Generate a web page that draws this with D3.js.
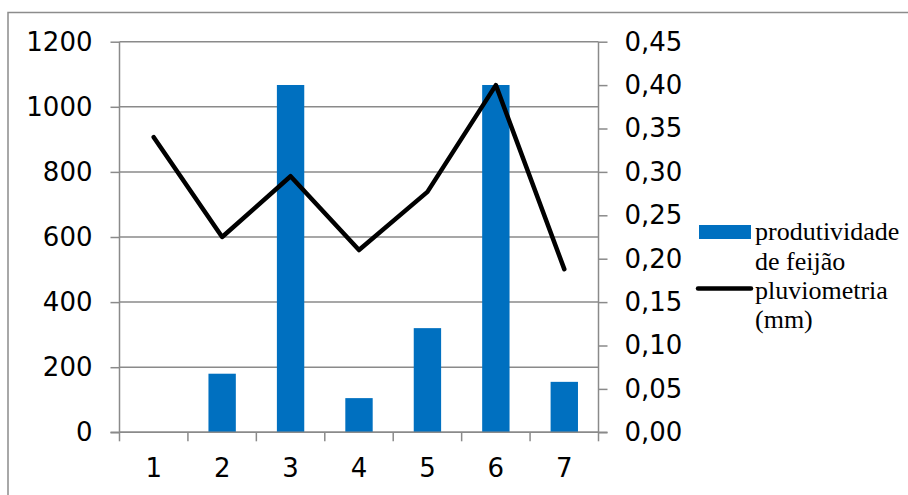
<!DOCTYPE html>
<html>
<head>
<meta charset="utf-8">
<script src="https://cdn.jsdelivr.net/npm/d3@7"></script>
<style>
  html, body { margin: 0; padding: 0; background: #fff; }
  svg { display: block; }
</style>
</head>
<body>
<svg id="chart" width="908" height="495"></svg>
<script>
// Categories and series
const categories = ["1", "2", "3", "4", "5", "6", "7"];
const produtividade = [0, 180, 1067, 105, 320, 1067, 155];
const pluviometria = [0.34, 0.225, 0.295, 0.21, 0.277, 0.40, 0.188];
const leftTicks = [0, 200, 400, 600, 800, 1000, 1200];
const rightTicks = [0, 0.05, 0.10, 0.15, 0.20, 0.25, 0.30, 0.35, 0.40, 0.45];
const legendBars = ["produtividade", "de feijão"];
const legendLine = ["pluviometria", "(mm)"];

const svg = d3.select("#chart");
const axisFont = "'DejaVu Sans', Verdana, sans-serif";
const legendFont = "'Liberation Serif', 'Times New Roman', serif";
const gridColor = "#8a8a8a";

// Outer frame
svg.append("rect")
  .attr("x", 8).attr("y", 12.5)
  .attr("width", 920).attr("height", 510)
  .attr("fill", "none").attr("stroke", "#8c8c8c").attr("stroke-width", 1.5);

const plot = { left: 119.5, right: 598.5, top: 41.7, bottom: 432.3 };

const x = d3.scaleBand().domain(categories).range([plot.left, plot.right]).paddingInner(0).paddingOuter(0);
const yL = d3.scaleLinear().domain([0, 1200]).range([plot.bottom, plot.top]);
const yR = d3.scaleLinear().domain([0, 0.45]).range([plot.bottom, plot.top]);

// Horizontal gridlines
svg.append("g").selectAll("line").data(leftTicks).join("line")
  .attr("x1", plot.left).attr("x2", plot.right)
  .attr("y1", d => yL(d)).attr("y2", d => yL(d))
  .attr("stroke", gridColor).attr("stroke-width", 1.5);

// Bars (gap width 150%)
const barW = x.bandwidth() * 0.4;
svg.append("g").selectAll("rect").data(produtividade).join("rect")
  .attr("x", (d, i) => x(categories[i]) + (x.bandwidth() - barW) / 2)
  .attr("width", barW)
  .attr("y", d => yL(d))
  .attr("height", d => yL(0) - yL(d))
  .attr("fill", "#0070C0");

// Left axis
const leftAxis = d3.axisLeft(yL).tickValues(leftTicks).tickSize(9).tickPadding(18).tickFormat(d3.format("d"));
const gL = svg.append("g").attr("transform", `translate(${plot.left},0)`).call(leftAxis);

// Right axis
const rightAxis = d3.axisRight(yR).tickValues(rightTicks).tickSize(9).tickPadding(17)
  .tickFormat(d => d3.format(".2f")(d).replace(".", ","));
const gR = svg.append("g").attr("transform", `translate(${plot.right},0)`).call(rightAxis);

// Bottom axis: ticks at category boundaries, labels at centres
const bottomAxis = d3.axisBottom(x).tickSize(0).tickPadding(26);
const gB = svg.append("g").attr("transform", `translate(0,${plot.bottom})`).call(bottomAxis);
gB.select(".domain").remove();
const bounds = categories.map(c => x(c)).concat([plot.right]);
svg.append("g").selectAll("line").data(bounds).join("line")
  .attr("x1", d => d).attr("x2", d => d)
  .attr("y1", plot.bottom).attr("y2", plot.bottom + 9)
  .attr("stroke", gridColor).attr("stroke-width", 1.5);
svg.append("line")
  .attr("x1", plot.left - 9).attr("x2", plot.right + 9)
  .attr("y1", plot.bottom).attr("y2", plot.bottom)
  .attr("stroke", gridColor).attr("stroke-width", 1.5);

[gL, gR, gB].forEach(g => {
  g.selectAll(".domain").attr("stroke", gridColor).attr("stroke-width", 1.5);
  g.selectAll(".tick line").attr("stroke", gridColor).attr("stroke-width", 1.5);
  g.selectAll(".tick text")
    .attr("font-family", axisFont).attr("font-size", 26).attr("fill", "#000");
});
gL.select(".domain").attr("d", `M0,${plot.top}V${plot.bottom}`);
gR.select(".domain").attr("d", `M0,${plot.top}V${plot.bottom}`);

// Rainfall line
const line = d3.line()
  .x((d, i) => x(categories[i]) + x.bandwidth() / 2)
  .y(d => yR(d));
svg.append("path").datum(pluviometria)
  .attr("d", line)
  .attr("fill", "none").attr("stroke", "#000")
  .attr("stroke-width", 4.5).attr("stroke-linejoin", "round").attr("stroke-linecap", "round");

// Legend
const lg = svg.append("g");
lg.append("rect").attr("x", 699).attr("y", 225).attr("width", 52).attr("height", 14).attr("fill", "#0070C0");
lg.append("line").attr("x1", 698).attr("x2", 751).attr("y1", 288.5).attr("y2", 288.5)
  .attr("stroke", "#000").attr("stroke-width", 4.5).attr("stroke-linecap", "round");
lg.selectAll("text.b").data(legendBars).join("text").attr("class", "b")
  .attr("x", 755).attr("y", (d, i) => 240 + i * 30)
  .attr("font-family", legendFont).attr("font-size", 26).attr("fill", "#000")
  .text(d => d);
lg.selectAll("text.l").data(legendLine).join("text").attr("class", "l")
  .attr("x", 755).attr("y", (d, i) => 299 + i * 29)
  .attr("font-family", legendFont).attr("font-size", 26).attr("fill", "#000")
  .text(d => d);
</script>
</body>
</html>
